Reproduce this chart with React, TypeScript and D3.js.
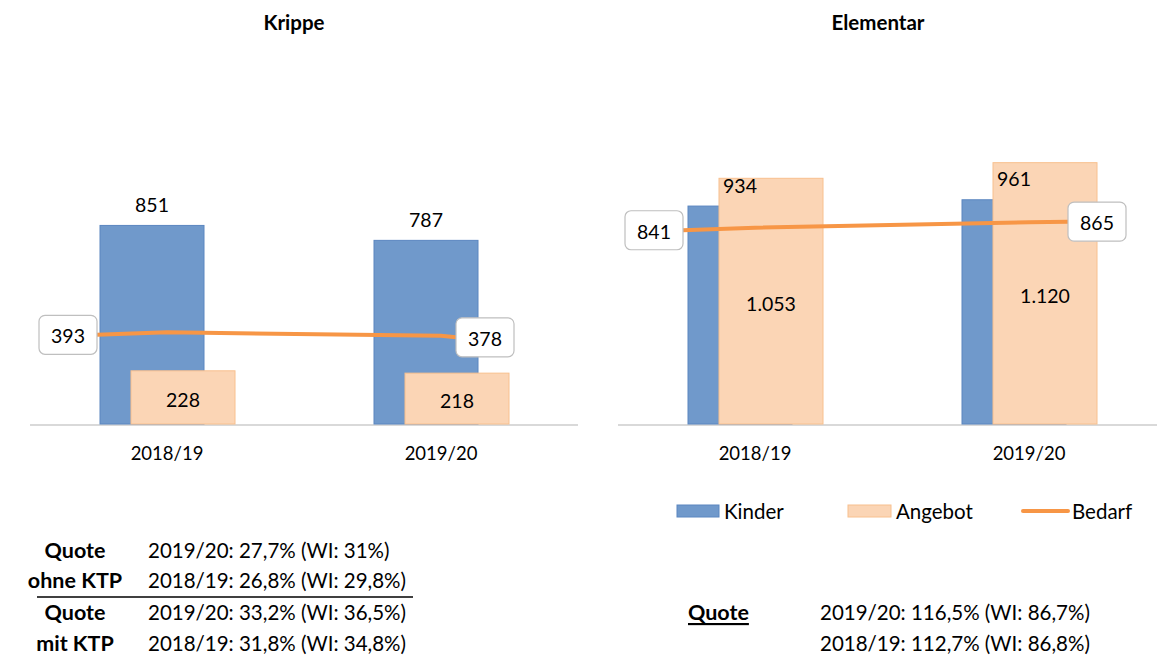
import React from "react";
import * as d3 from "d3";

const categories = ["2018/19", "2019/20"];
const seriesNames = ["Kinder", "Angebot", "Bedarf"];
const krippeKinder = [851, 787];
const krippeAngebot = [228, 218];
const krippeBedarf = [393, 378];
const elementarKinder = [934, 961];
const elementarAngebot = [1053, 1120];
const elementarBedarf = [841, 865];

const krippeQuoteLabels = [["Quote", "ohne KTP"], ["Quote", "mit KTP"]];
const krippeQuoteValues = [
  ["2019/20: 27,7% (WI: 31%)", "2018/19: 26,8% (WI: 29,8%)"],
  ["2019/20: 33,2% (WI: 36,5%)", "2018/19: 31,8% (WI: 34,8%)"],
];
const elementarQuoteLabel = "Quote";
const elementarQuoteValues = ["2019/20: 116,5% (WI: 86,7%)", "2018/19: 112,7% (WI: 86,8%)"];

const W = 1157;
const H = 655;
const FONT = "Lato, 'Open Sans', sans-serif";
const BLUE = "#7099CB";
const BLUE_STROKE = "#5A86C0";
const PEACH = "#FBD5B5";
const PEACH_STROKE = "#F8C08E";
const ORANGE = "#F79646";

const de = d3.formatLocale({ decimal: ",", thousands: ".", grouping: [3], currency: ["", "€"] });
const fmt = de.format(",d");

type PanelProps = {
  title: string;
  titleX: number;
  x0: number;
  kinder: number[];
  angebot: number[];
  bedarf: number[];
  leftLabelEdge: number;
  rightLabelEdge: number;
  leftDy: number;
  rightDy: number;
};

const baseline = 424;
const y = d3.scaleLinear().domain([0, 1200]).range([baseline, 144]);
const barW = 104;
const overlap = 31;
const boxW = 58;
const boxH = 39;

function Panel(p: PanelProps) {
  const x = d3.scaleBand().domain(categories).range([p.x0, p.x0 + 548]).padding(0);
  const cx = (c: string) => (x(c) as number) + x.bandwidth() / 2;
  const kx = (c: string) => cx(c) - 67;
  const ax = (c: string) => kx(c) + overlap;
  const dys = [p.leftDy, p.rightDy];

  const pts: [number, number][] = [];
  pts.push([cx(categories[0]) + p.leftLabelEdge, y(p.bedarf[0]) + p.leftDy]);
  categories.forEach((c, i) => pts.push([cx(c), y(p.bedarf[i])]));
  pts.push([cx(categories[1]) + p.rightLabelEdge, y(p.bedarf[1]) + p.rightDy]);
  const line = d3.line();

  return (
    <g>
      <text x={p.titleX} y={22} textAnchor="middle" dominantBaseline="central" fontWeight="bold" fontSize={20.5} fontFamily={FONT}>
        {p.title}
      </text>
      <line x1={p.x0} x2={Math.min(p.x0 + 548, W)} y1={baseline + 1} y2={baseline + 1} stroke="#D9D9D9" strokeWidth={2} />
      {categories.map((c, i) => (
        <rect key={"k" + c} x={kx(c)} y={y(p.kinder[i])} width={barW} height={baseline - y(p.kinder[i])} fill={BLUE} stroke={BLUE_STROKE} strokeWidth={1} />
      ))}
      {categories.map((c, i) => (
        <rect key={"a" + c} x={ax(c)} y={y(p.angebot[i])} width={barW} height={baseline - y(p.angebot[i])} fill={PEACH} stroke={PEACH_STROKE} strokeWidth={1} />
      ))}
      <path d={line(pts) as string} fill="none" stroke={ORANGE} strokeWidth={4} strokeLinejoin="round" />
      {categories.map((c, i) => (
        <text key={"kl" + c} x={kx(c) + barW / 2} y={y(p.kinder[i]) - 21} textAnchor="middle" dominantBaseline="central" fontSize={19.5} fontFamily={FONT} fill="#000">
          {fmt(p.kinder[i])}
        </text>
      ))}
      {categories.map((c, i) => (
        <text key={"al" + c} x={ax(c) + barW / 2} y={(y(p.angebot[i]) + baseline) / 2 + 2} textAnchor="middle" dominantBaseline="central" fontSize={19.5} fontFamily={FONT} fill="#000">
          {fmt(p.angebot[i])}
        </text>
      ))}
      {categories.map((c, i) => {
        const bx = i === 0 ? cx(c) + p.leftLabelEdge - boxW : cx(c) + p.rightLabelEdge;
        const by = y(p.bedarf[i]) + dys[i] - boxH / 2;
        return (
          <g key={"bl" + c}>
            <rect x={bx} y={by} width={boxW} height={boxH} rx={6} fill="#fff" stroke="#BFBFBF" strokeWidth={1.2} />
            <text x={bx + boxW / 2} y={by + boxH / 2 + 1} textAnchor="middle" dominantBaseline="central" fontSize={19.5} fontFamily={FONT}>
              {fmt(p.bedarf[i])}
            </text>
          </g>
        );
      })}
      {categories.map((c) => (
        <text key={"cat" + c} x={cx(c)} y={453} textAnchor="middle" dominantBaseline="central" fontSize={18.5} fontFamily={FONT}>
          {c}
        </text>
      ))}
    </g>
  );
}

export default function App() {
  const rowY = [550, 580, 612, 643];
  return (
    <svg width={W} height={H} style={{ position: "absolute", left: 0, top: 0, background: "#fff" }}>
      <rect width={W} height={H} fill="#fff" />
      <Panel title="Krippe" titleX={294} x0={30} kinder={krippeKinder} angebot={krippeAngebot} bedarf={krippeBedarf} leftLabelEdge={-70} rightLabelEdge={15} leftDy={2.5} rightDy={1.5} />
      <Panel title="Elementar" titleX={878} x0={618} kinder={elementarKinder} angebot={elementarAngebot} bedarf={elementarBedarf} leftLabelEdge={-72} rightLabelEdge={39} leftDy={2.5} rightDy={-0.5} />

      {/* Legend */}
      <g fontFamily={FONT} fontSize={20.5}>
        <rect x={677} y={505} width={42} height={12} fill={BLUE} stroke={BLUE_STROKE} />
        <text x={724} y={511} dominantBaseline="central">{seriesNames[0]}</text>
        <rect x={848} y={505} width={43} height={12} fill={PEACH} stroke={PEACH_STROKE} />
        <text x={896} y={511} dominantBaseline="central">{seriesNames[1]}</text>
        <line x1={1023} x2={1068} y1={511} y2={511} stroke={ORANGE} strokeWidth={4} strokeLinecap="round" />
        <text x={1072} y={511} dominantBaseline="central">{seriesNames[2]}</text>
      </g>

      {/* Krippe quotes */}
      <g fontFamily={FONT} fontSize={20.5}>
        {krippeQuoteLabels.map((pair, gi) =>
          pair.map((lab, li) => (
            <text key={lab + gi + li} x={75} y={rowY[gi * 2 + li]} textAnchor="middle" dominantBaseline="central" fontWeight="bold" fontSize={21.5}>
              {lab}
            </text>
          ))
        )}
        {krippeQuoteValues.map((pair, gi) =>
          pair.map((v, li) => (
            <text key={v} x={148} y={rowY[gi * 2 + li]} dominantBaseline="central">
              {v}
            </text>
          ))
        )}
        <line x1={37} x2={413} y1={597} y2={597} stroke="#000" strokeWidth={1.5} />
      </g>

      {/* Elementar quotes */}
      <g fontFamily={FONT} fontSize={20.5}>
        <text x={688} y={rowY[2]} dominantBaseline="central" fontWeight="bold" fontSize={21.5} textDecoration="underline">
          {elementarQuoteLabel}
        </text>
        {elementarQuoteValues.map((v, i) => (
          <text key={v} x={820} y={rowY[2 + i]} dominantBaseline="central">
            {v}
          </text>
        ))}
      </g>
    </svg>
  );
}
